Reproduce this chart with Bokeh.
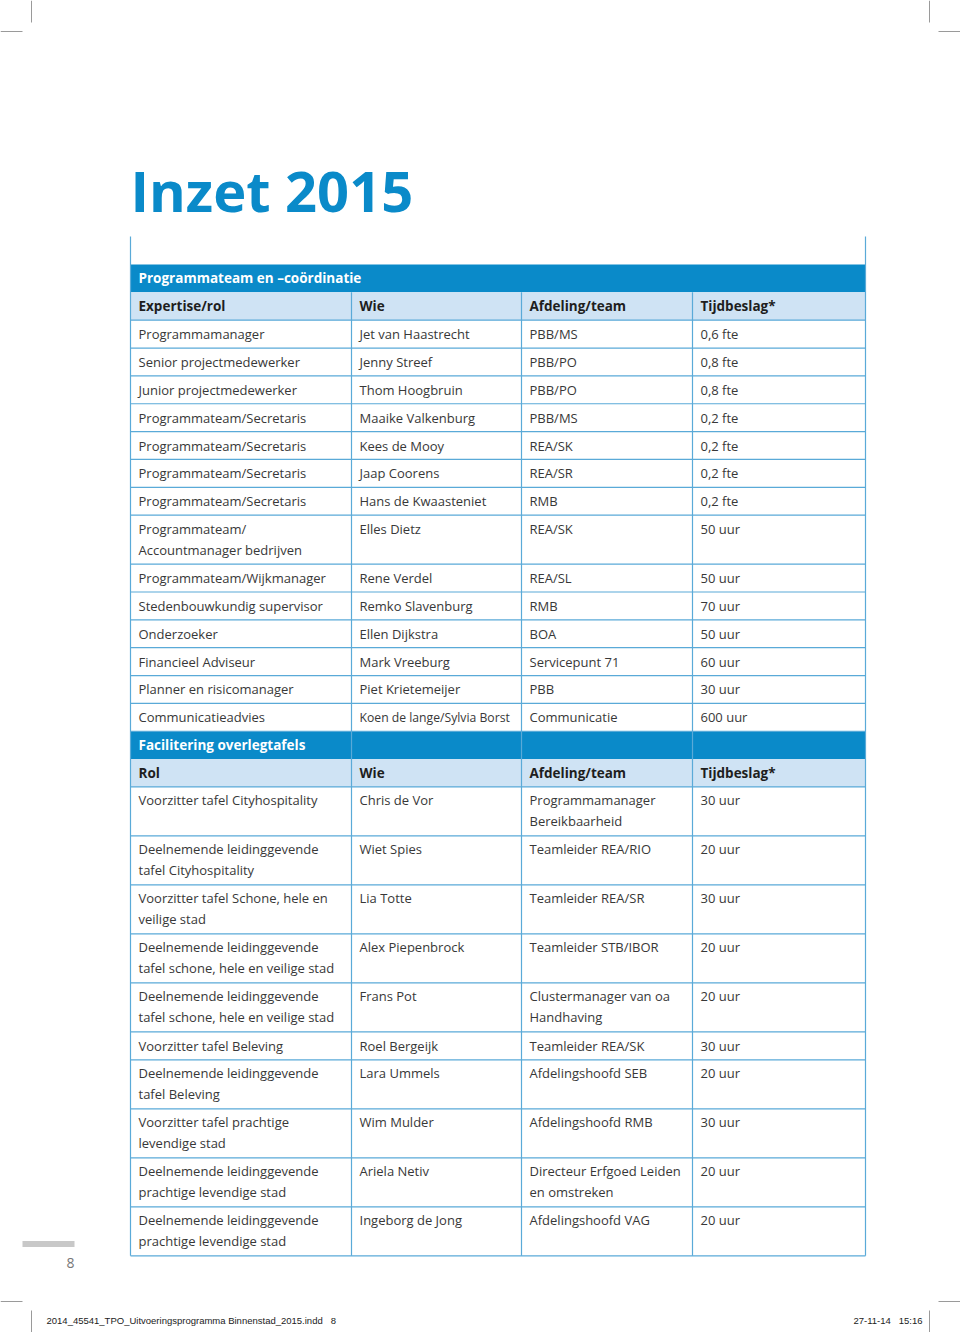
from bokeh.plotting import figure
from bokeh.models import Range1d
from bokeh.core.properties import value
from bokeh.embed import file_html
from bokeh.resources import INLINE

# ---------------- data ----------------
page_title = "Inzet 2015"

sec1_title = "Programmateam en \u2013coördinatie"
sec1_head = ["Expertise/rol", "Wie", "Afdeling/team", "Tijdbeslag*"]
sec1_rol = ["Programmamanager", "Senior projectmedewerker", "Junior projectmedewerker",
            "Programmateam/Secretaris", "Programmateam/Secretaris", "Programmateam/Secretaris",
            "Programmateam/Secretaris", "Programmateam/\nAccountmanager bedrijven",
            "Programmateam/Wijkmanager", "Stedenbouwkundig supervisor", "Onderzoeker",
            "Financieel Adviseur", "Planner en risicomanager", "Communicatieadvies"]
sec1_wie = ["Jet van Haastrecht", "Jenny Streef", "Thom Hoogbruin", "Maaike Valkenburg",
            "Kees de Mooy", "Jaap Coorens", "Hans de Kwaasteniet", "Elles Dietz", "Rene Verdel",
            "Remko Slavenburg", "Ellen Dijkstra", "Mark Vreeburg", "Piet Krietemeijer",
            "Koen de lange/Sylvia Borst"]
sec1_afd = ["PBB/MS", "PBB/PO", "PBB/PO", "PBB/MS", "REA/SK", "REA/SR", "RMB", "REA/SK",
            "REA/SL", "RMB", "BOA", "Servicepunt 71", "PBB", "Communicatie"]
sec1_tijd = ["0,6 fte", "0,8 fte", "0,8 fte", "0,2 fte", "0,2 fte", "0,2 fte", "0,2 fte",
             "50 uur", "50 uur", "70 uur", "50 uur", "60 uur", "30 uur", "600 uur"]

sec2_title = "Facilitering overlegtafels"
sec2_head = ["Rol", "Wie", "Afdeling/team", "Tijdbeslag*"]
sec2_rol = ["Voorzitter tafel Cityhospitality",
            "Deelnemende leidinggevende\ntafel Cityhospitality",
            "Voorzitter tafel Schone, hele en\nveilige stad",
            "Deelnemende leidinggevende\ntafel schone, hele en veilige stad",
            "Deelnemende leidinggevende\ntafel schone, hele en veilige stad",
            "Voorzitter tafel Beleving",
            "Deelnemende leidinggevende\ntafel Beleving",
            "Voorzitter tafel prachtige\nlevendige stad",
            "Deelnemende leidinggevende\nprachtige levendige stad",
            "Deelnemende leidinggevende\nprachtige levendige stad"]
sec2_wie = ["Chris de Vor", "Wiet Spies", "Lia Totte", "Alex Piepenbrock", "Frans Pot",
            "Roel Bergeijk", "Lara Ummels", "Wim Mulder", "Ariela Netiv", "Ingeborg de Jong"]
sec2_afd = ["Programmamanager\nBereikbaarheid", "Teamleider REA/RIO", "Teamleider REA/SR",
            "Teamleider STB/IBOR", "Clustermanager van oa\nHandhaving", "Teamleider REA/SK",
            "Afdelingshoofd SEB", "Afdelingshoofd RMB", "Directeur Erfgoed Leiden\nen omstreken",
            "Afdelingshoofd VAG"]
sec2_tijd = ["30 uur", "20 uur", "30 uur", "20 uur", "20 uur", "30 uur", "20 uur", "30 uur",
             "20 uur", "20 uur"]

page_number = "8"
footer_left = "2014_45541_TPO_Uitvoeringsprogramma Binnenstad_2015.indd\u00a0\u00a0\u00a08"
footer_right = "27-11-14\u00a0\u00a0\u00a015:16"

# ---------------- layout / style ----------------
FONT = value("Open Sans")
BLUE = "#0a8ac9"
LIGHT = "#cfe3f4"
LINE = "#5aaad8"
TXT = "#383838"
col_x = [130, 351, 521, 692, 865]
H1 = 27.85
H2 = 49.0
LS = 21.0

p = figure(width=960, height=1332, x_range=Range1d(0, 960), y_range=Range1d(1332, 0),
           x_axis_type=None, y_axis_type=None, toolbar_location=None,
           output_backend="svg", min_border=0, outline_line_color=None)
p.grid.visible = False
p.background_fill_color = "white"
p.border_fill_color = "white"

dark_t, dark_b, light_t, light_b = [], [], [], []
hlines = []
tx, ty, tt, ts = [], [], [], []  # regular text
bx, by, bt = [], [], []          # bold header text
wx, wy, wt = [], [], []          # white band text
vsegs = []

y = 264.0
for si, (title, head, cols) in enumerate([
        (sec1_title, sec1_head, [sec1_rol, sec1_wie, sec1_afd, sec1_tijd]),
        (sec2_title, sec2_head, [sec2_rol, sec2_wie, sec2_afd, sec2_tijd])]):
    sec_top = y
    dark_t.append(y); dark_b.append(y + H1)
    wx.append(col_x[0] + 8); wy.append(y + H1 / 2); wt.append(title)
    y += H1
    light_t.append(y); light_b.append(y + H1)
    for c in range(4):
        bx.append(col_x[c] + 8); by.append(y + H1 / 2); bt.append(head[c])
    y += H1
    hlines.append(y)
    n = len(cols[0])
    for r in range(n):
        cells = [cols[c][r].split("\n") for c in range(4)]
        nl = max(len(cl) for cl in cells)
        h = H1 if nl == 1 else H2
        first = y + (H1 / 2 if nl == 1 else 13.5)
        for c in range(4):
            for k, line in enumerate(cells[c]):
                tx.append(col_x[c] + 8); ty.append(first + k * LS); tt.append(line)
                # tighten text that would overrun a narrow column
                ts.append("12.2px" if (c == 1 and len(line) > 22) else "13px")
        y += h
        hlines.append(y)
    vtop = sec_top + H1 if si == 0 else sec_top
    for c in (1, 2, 3):
        vsegs.append((col_x[c], vtop, col_x[c], y))
table_bottom = y

p.quad(left=col_x[0], right=col_x[-1], top=dark_t, bottom=dark_b,
       fill_color=BLUE, line_color=None)
p.quad(left=col_x[0], right=col_x[-1], top=light_t, bottom=light_b,
       fill_color=LIGHT, line_color=None)
p.segment(x0=[col_x[0]] * len(hlines), y0=hlines, x1=[col_x[-1]] * len(hlines), y1=hlines,
          line_color=LINE, line_width=1.2)
p.segment(x0=[v[0] for v in vsegs], y0=[v[1] for v in vsegs],
          x1=[v[2] for v in vsegs], y1=[v[3] for v in vsegs],
          line_color=LINE, line_width=1.2)
p.segment(x0=[col_x[0], col_x[-1]], y0=[236, 236], x1=[col_x[0], col_x[-1]],
          y1=[table_bottom, table_bottom], line_color=LINE, line_width=1.2)

p.text(x=tx, y=ty, text=tt, text_font_size=ts, text_baseline="middle", text_align="left",
       text_font=FONT, text_color=TXT)
p.text(x=bx, y=by, text=bt, text_baseline="middle", text_align="left",
       text_font=FONT, text_font_size="13.5px", text_font_style="bold", text_color="#1e1e1e")
p.text(x=wx, y=wy, text=wt, text_baseline="middle", text_align="left",
       text_font=FONT, text_font_size="13.5px", text_font_style="bold", text_color="white")

# title
p.text(x=[130], y=[189.5], text=[page_title], text_baseline="middle", text_align="left",
       text_font=FONT, text_font_size="56px", text_font_style="bold", text_color=BLUE)

# page number marker
p.quad(left=[22], right=[74], top=[1240.5], bottom=[1246.5], fill_color="#c8c8c8", line_color=None)
p.text(x=[70], y=[1262], text=[page_number], text_baseline="middle", text_align="center",
       text_font=FONT, text_font_size="14px", text_color="#777777")

# crop marks
cm_x0 = [31, 0, 929, 938, 0, 31, 938, 929]
cm_y0 = [0, 31, 0, 31, 1301, 1310, 1301, 1310]
cm_x1 = [31, 22, 929, 960, 22, 31, 960, 929]
cm_y1 = [22, 31, 22, 31, 1301, 1332, 1301, 1332]
p.segment(x0=cm_x0, y0=cm_y0, x1=cm_x1, y1=cm_y1, line_color="#9a9a9a", line_width=1)

# footer slug
p.text(x=[46], y=[1320], text=[footer_left], text_baseline="middle", text_align="left",
       text_font=value("Liberation Sans"), text_font_size="9.5px", text_color="#222222")
p.text(x=[922], y=[1320], text=[footer_right], text_baseline="middle", text_align="right",
       text_font=value("Liberation Sans"), text_font_size="9.5px", text_color="#222222")

open("out.html", "w").write(file_html(p, INLINE))
